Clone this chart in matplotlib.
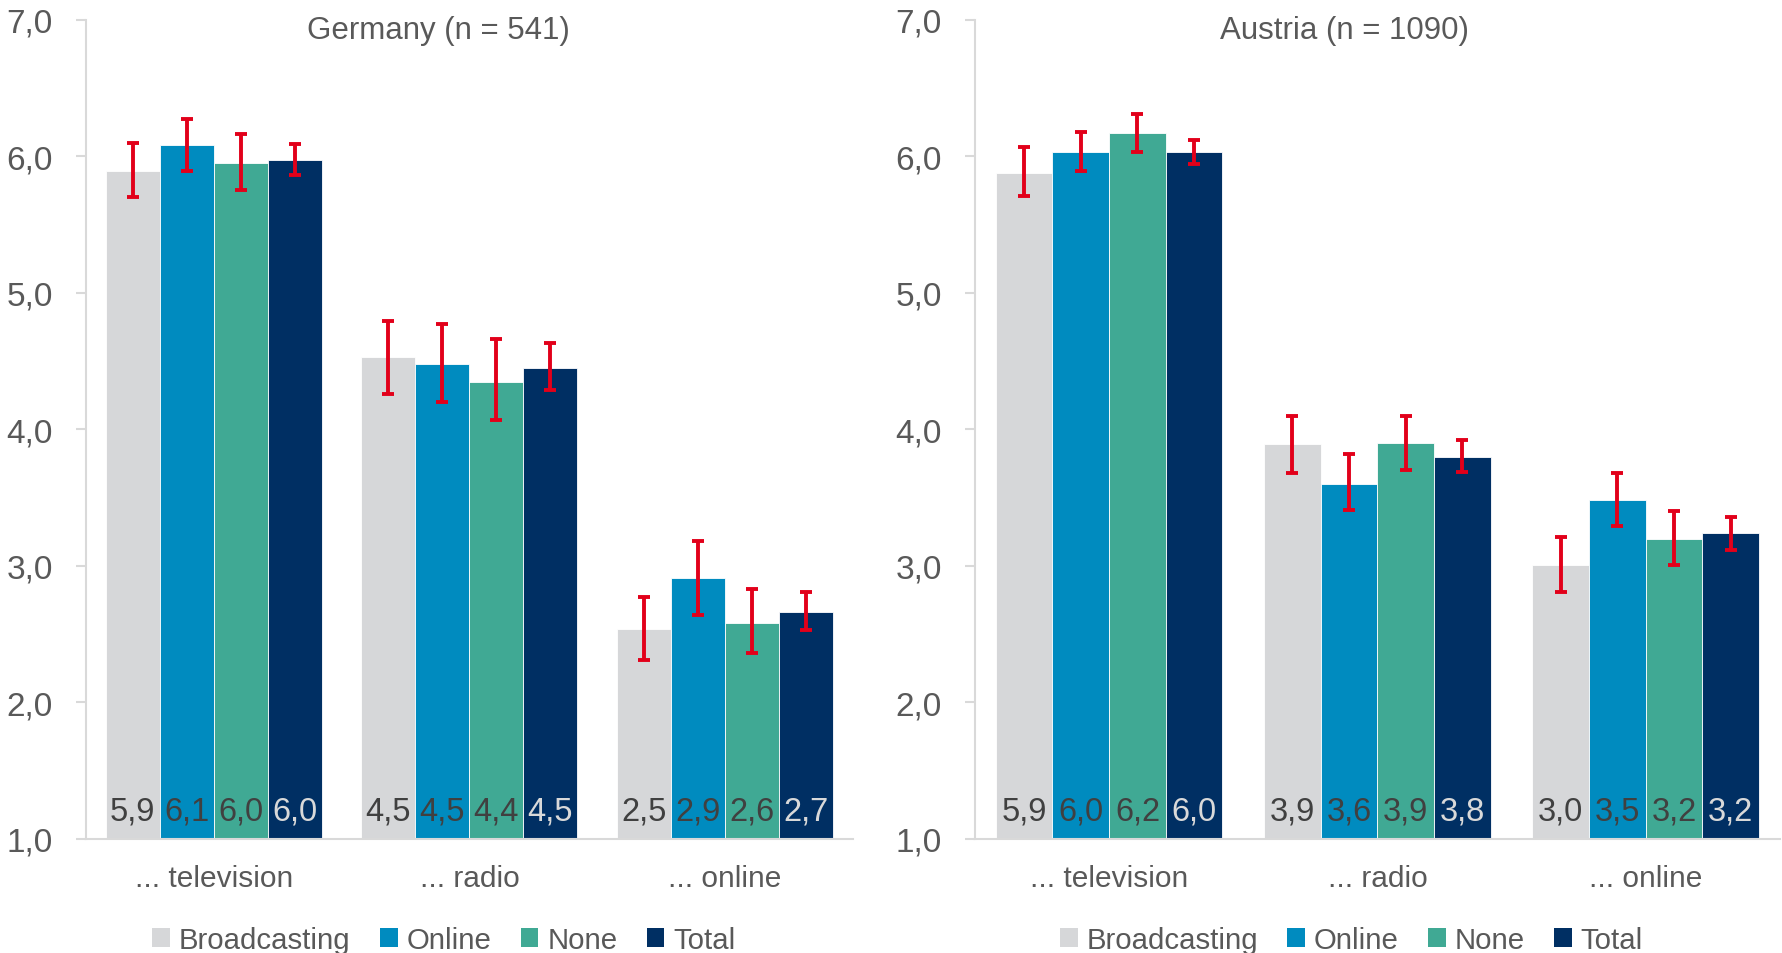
import numpy as np
import matplotlib
matplotlib.use('Agg')
import matplotlib.pyplot as plt
from matplotlib.patches import Patch
from matplotlib.ticker import FuncFormatter

plt.rcParams['font.family'] = ['Liberation Sans', 'DejaVu Sans']

categories = ['... television', '... radio', '... online']
series = ['Broadcasting', 'Online', 'None', 'Total']
colors = ['#D6D7D9', '#008BBF', '#40A994', '#002F63']
label_colors = ['#404040', '#404040', '#404040', '#D9D9D9']

# Germany (n = 541)
de_mean = [[5.89, 4.53, 2.54],
           [6.08, 4.48, 2.91],
           [5.95, 4.35, 2.58],
           [5.97, 4.45, 2.66]]
de_low = [[5.70, 4.26, 2.31],
          [5.89, 4.20, 2.64],
          [5.75, 4.07, 2.36],
          [5.86, 4.29, 2.53]]
de_high = [[6.10, 4.79, 2.77],
           [6.27, 4.77, 3.18],
           [6.16, 4.66, 2.83],
           [6.09, 4.63, 2.81]]
de_labels = [['5,9', '4,5', '2,5'],
             ['6,1', '4,5', '2,9'],
             ['6,0', '4,4', '2,6'],
             ['6,0', '4,5', '2,7']]

# Austria (n = 1090)
at_mean = [[5.88, 3.89, 3.01],
           [6.03, 3.60, 3.48],
           [6.17, 3.90, 3.20],
           [6.03, 3.80, 3.24]]
at_low = [[5.71, 3.68, 2.81],
          [5.89, 3.41, 3.29],
          [6.03, 3.70, 3.01],
          [5.94, 3.69, 3.12]]
at_high = [[6.07, 4.10, 3.21],
           [6.18, 3.82, 3.68],
           [6.31, 4.10, 3.40],
           [6.12, 3.92, 3.36]]
at_labels = [['5,9', '3,9', '3,0'],
             ['6,0', '3,6', '3,5'],
             ['6,2', '3,9', '3,2'],
             ['6,0', '3,8', '3,2']]

text_col = '#595959'
axis_col = '#D9D9D9'

fig = plt.figure(figsize=(17.83, 9.54), dpi=100)


def draw_panel(rect, title, title_x, mean, low, high, labels, legend_x):
    ax = fig.add_axes(rect)
    x = np.arange(len(categories))
    w = 0.845 / len(series)
    for i, name in enumerate(series):
        pos = x + (i - 1.5) * w
        m = np.array(mean[i])
        err = [m - np.array(low[i]), np.array(high[i]) - m]
        ax.bar(pos, m, width=w, color=colors[i], edgecolor='white', linewidth=0.6, zorder=2)
        ax.errorbar(pos, m, yerr=err, fmt='none', ecolor='#E2001A',
                    elinewidth=2.8, capsize=4.5, capthick=2.8, zorder=3)
        for p, lab in zip(pos, labels[i]):
            ax.annotate(lab, (p, 1.0), xytext=(0, 9), textcoords='offset points',
                        ha='center', va='bottom', fontsize=23.5, color=label_colors[i], zorder=4)
    ax.set_xlim(-0.5, 2.5)
    ax.set_ylim(1, 7)
    ax.set_yticks(np.arange(1, 8))
    ax.yaxis.set_major_formatter(FuncFormatter(lambda v, _: f'{v:.1f}'.replace('.', ',')))
    ax.set_xticks(x)
    ax.set_xticklabels(categories)
    ax.tick_params(axis='x', length=0, pad=18, labelsize=21.5, labelcolor=text_col)
    ax.tick_params(axis='y', length=7, width=1.5, color=axis_col, pad=17,
                   labelsize=24, labelcolor=text_col)
    for s in ['top', 'right']:
        ax.spines[s].set_visible(False)
    for s in ['left', 'bottom']:
        ax.spines[s].set_color(axis_col)
        ax.spines[s].set_linewidth(1.5)
    fig.text(title_x, 0.968, title, ha='center', va='center', fontsize=22.5, color=text_col)
    handles = [Patch(facecolor=c, edgecolor='none') for c in colors]
    fig.legend(handles, series, loc='center', bbox_to_anchor=(legend_x, 0.014),
               ncol=4, frameon=False, fontsize=21.2, labelcolor=text_col,
               handlelength=0.6, handleheight=0.6, handletextpad=0.3, columnspacing=1.0)
    return ax


draw_panel([0.0482, 0.1195, 0.4302, 0.8588], 'Germany (n = 541)', 0.246,
           de_mean, de_low, de_high, de_labels, 0.249)
draw_panel([0.5468, 0.1195, 0.4515, 0.8588], 'Austria (n = 1090)', 0.754,
           at_mean, at_low, at_high, at_labels, 0.758)

fig.savefig('out.png', dpi=100)
